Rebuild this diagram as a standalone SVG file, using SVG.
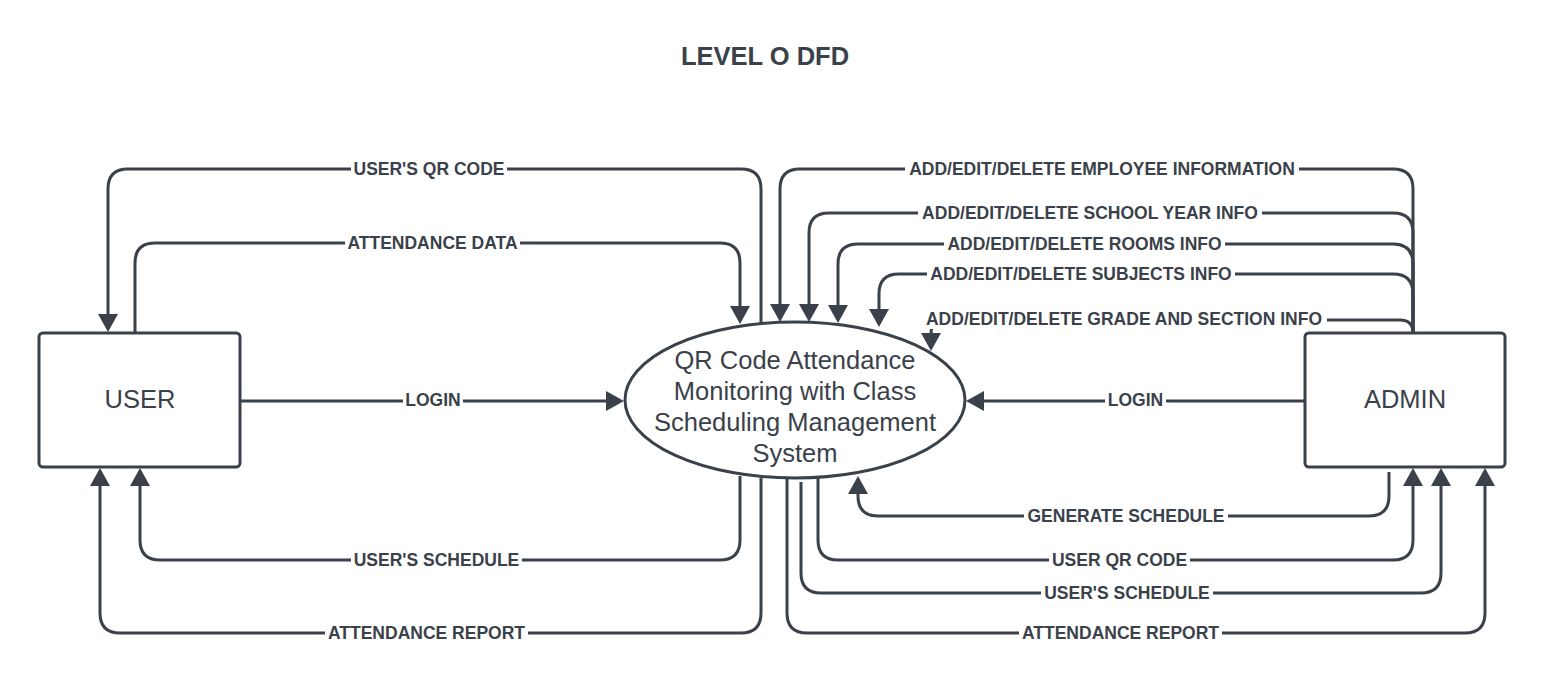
<svg xmlns="http://www.w3.org/2000/svg" width="1546" height="685" viewBox="0 0 1546 685">
<style>
.c{fill:none;stroke:#3a414a;stroke-width:3;marker-end:url(#ah)}
.n{fill:none;stroke:#3a414a;stroke-width:3}
.bg{fill:#ffffff}
.lb{font-family:"Liberation Sans",Arial,sans-serif;font-weight:bold;font-size:17.5px;fill:#3a414a;text-anchor:middle}
.nt{font-family:"Liberation Sans",Arial,sans-serif;font-size:25.5px;fill:#3a414a;text-anchor:middle}
.box{fill:#ffffff;stroke:#3a414a;stroke-width:3}
</style>
<defs>
<marker id="ah" markerUnits="userSpaceOnUse" markerWidth="18" markerHeight="20" viewBox="0 0 18 20" refX="14" refY="10" orient="auto">
<path d="M0,0 L18,10 L0,20 z" fill="#3a414a"/>
</marker>
</defs>
<rect x="0" y="0" width="1546" height="685" fill="#ffffff"/>
<g id="title">
<text x="765" y="65" style="font-family:'Liberation Sans',Arial,sans-serif;font-weight:bold;font-size:25.5px;fill:#3a414a;text-anchor:middle">LEVEL O DFD</text>
</g>
<g id="connectors">
<path class="n" d="M761,323 V189 Q761,169 741,169 H128 Q108,169 108,189 V328" marker-end="url(#ah)"/>
<path class="c" d="M135,333 V263 Q135,243 155,243 H720 Q740,243 740,263 V320"/>
<path class="c" d="M240,401 H620"/>
<path class="c" d="M740,476 V540 Q740,560 720,560 H160 Q140,560 140,540 V472"/>
<path class="c" d="M761,478 V613 Q761,633 741,633 H120 Q100,633 100,613 V472"/>
<path class="c" d="M1413,333 V189 Q1413,169 1393,169 H800 Q780,169 780,189 V318"/>
<path class="c" d="M1413,333 V233 Q1413,213 1393,213 H829 Q809,213 809,233 V318"/>
<path class="c" d="M1413,333 V264 Q1413,244 1393,244 H858 Q838,244 838,264 V319"/>
<path class="c" d="M1413,333 V294 Q1413,274 1393,274 H899 Q879,274 879,294 V323"/>
<path class="c" d="M1413,333 Q1413,320 1400,320 H945 Q931,320 931,334 V347"/>
<path class="c" d="M1305,401 H970"/>
<path class="c" d="M1389,472 V496 Q1389,516 1369,516 H878 Q858,516 858,496 V480"/>
<path class="c" d="M818,477 V540 Q818,560 838,560 H1393 Q1413,560 1413,540 V472"/>
<path class="c" d="M801,482 V573 Q801,593 821,593 H1421 Q1441,593 1441,573 V472"/>
<path class="c" d="M787,478 V613 Q787,633 807,633 H1465 Q1485,633 1485,613 V472"/>
<rect class="bg" x="351" y="160" width="156" height="18"/>
<text class="lb" x="429" y="175">USER'S QR CODE</text>
<rect class="bg" x="345" y="234" width="175" height="18"/>
<text class="lb" x="432.5" y="249">ATTENDANCE DATA</text>
<rect class="bg" x="403" y="392" width="60" height="18"/>
<text class="lb" x="433" y="406">LOGIN</text>
<rect class="bg" x="351" y="551" width="171" height="18"/>
<text class="lb" x="436.5" y="566">USER'S SCHEDULE</text>
<rect class="bg" x="325" y="624" width="203" height="18"/>
<text class="lb" x="426.5" y="639">ATTENDANCE REPORT</text>
<rect class="bg" x="905" y="160" width="394" height="18"/>
<text class="lb" x="1102" y="175">ADD/EDIT/DELETE EMPLOYEE INFORMATION</text>
<rect class="bg" x="918" y="204" width="344" height="18"/>
<text class="lb" x="1090" y="219">ADD/EDIT/DELETE SCHOOL YEAR INFO</text>
<rect class="bg" x="944" y="235" width="281" height="18"/>
<text class="lb" x="1084.5" y="250">ADD/EDIT/DELETE ROOMS INFO</text>
<rect class="bg" x="927" y="265" width="308" height="18"/>
<text class="lb" x="1081" y="280">ADD/EDIT/DELETE SUBJECTS INFO</text>
<rect class="bg" x="921" y="309" width="406" height="20"/>
<text class="lb" x="1124" y="325">ADD/EDIT/DELETE GRADE AND SECTION INFO</text>
<rect class="bg" x="1105" y="392" width="61" height="18"/>
<text class="lb" x="1135.5" y="406">LOGIN</text>
<rect class="bg" x="1024" y="507" width="204" height="18"/>
<text class="lb" x="1126" y="522">GENERATE SCHEDULE</text>
<rect class="bg" x="1049" y="551" width="141" height="18"/>
<text class="lb" x="1119.5" y="566">USER QR CODE</text>
<rect class="bg" x="1041" y="584" width="172" height="18"/>
<text class="lb" x="1127" y="599">USER'S SCHEDULE</text>
<rect class="bg" x="1019" y="624" width="203" height="18"/>
<text class="lb" x="1120.5" y="639">ATTENDANCE REPORT</text>
</g>
<g id="user">
<rect class="box" x="39" y="333" width="201" height="134" rx="4"/>
<text class="nt" x="140" y="408">USER</text>
</g>
<g id="admin">
<rect class="box" x="1305" y="333" width="200" height="134" rx="4"/>
<text class="nt" x="1405" y="408">ADMIN</text>
</g>
<g id="process">
<ellipse class="box" cx="795" cy="400" rx="170" ry="78"/>
<text class="nt" x="795" y="369">QR Code Attendance</text>
<text class="nt" x="795" y="400">Monitoring with Class</text>
<text class="nt" x="795" y="431">Scheduling Management</text>
<text class="nt" x="795" y="462">System</text>
</g>
</svg>
